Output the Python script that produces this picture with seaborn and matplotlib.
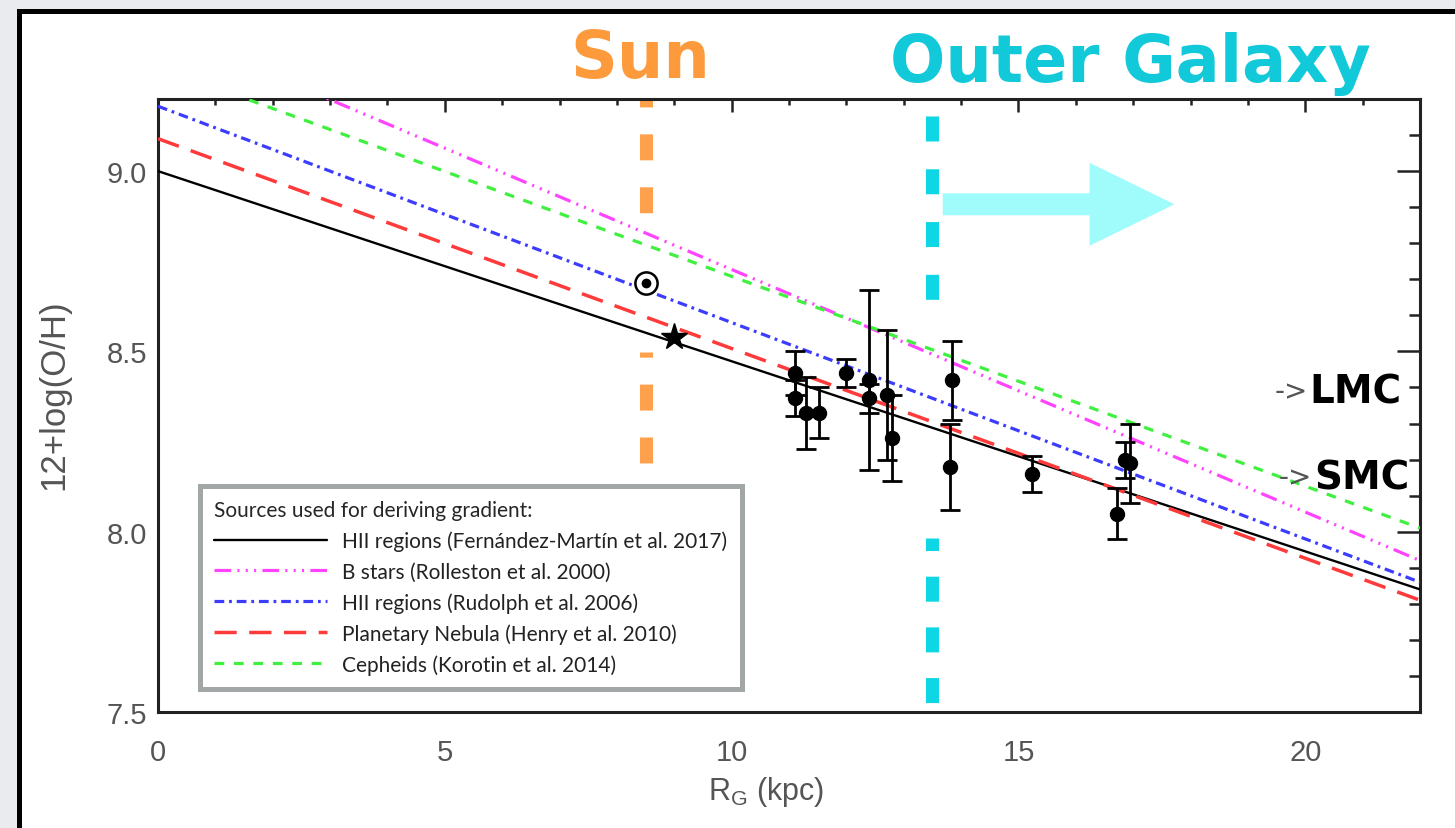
import numpy as np
import pandas as pd
import matplotlib
matplotlib.use("Agg")
import matplotlib.pyplot as plt
from matplotlib.patches import Rectangle
import seaborn as sns

# ---------------- data ----------------
grad_labels = ["HII regions (Fernández-Martín et al. 2017)",
               "B stars (Rolleston et al. 2000)",
               "HII regions (Rudolph et al. 2006)",
               "Planetary Nebula (Henry et al. 2010)",
               "Cepheids (Korotin et al. 2014)"]
grad_x = [0, 22]
grad_y0 = [9.00, 9.40, 9.18, 9.09, 9.29]   # value at R=0
grad_y1 = [7.84, 7.92, 7.86, 7.81, 8.01]   # value at R=22
grad_colors = ["black", "#ff44ff", "#3c3cff", "#ff3a3a", "#3ff03f"]
grad_lw = [1.7, 2.3, 2.3, 2.5, 2.3]
grad_styles = ["-",
               (0, (12, 4.5, 1.5, 4.5, 1.5, 4.5, 1.5, 4.5)),
               (0, (7, 3.5, 2, 3.5)),
               (0, (16, 9)),
               (0, (7, 7))]

pts_x = [11.10, 11.10, 11.30, 11.52, 12.00, 12.40, 12.40, 12.70, 12.80,
         13.85, 13.80, 15.23, 16.72, 16.85, 16.95]
pts_y = [8.44, 8.37, 8.33, 8.33, 8.44, 8.42, 8.37, 8.38, 8.26,
         8.42, 8.18, 8.16, 8.05, 8.20, 8.19]
pts_err = [0.06, 0.05, 0.10, 0.07, 0.04, 0.25, 0.04, 0.18, 0.12,
           0.11, 0.12, 0.05, 0.07, 0.05, 0.11]

sun_x, sun_y = 8.5, 8.69
star_x, star_y = 9.0, 8.54

sun_line_x = 8.5
sun_line_seg1 = [9.2, 8.88]
sun_line_seg2 = [8.497, 8.186]
outer_line_x = 13.5
outer_line_seg1 = [9.153, 8.639]
outer_line_seg2 = [7.983, 7.5]
arrow_x0, arrow_x1, arrow_y = 13.68, 17.72, 8.908

lmc_y, smc_y = 8.39, 8.15

# ---------------- figure ----------------
sns.set_style("white")
plt.rcParams["lines.scale_dashes"] = False

W, H = 1455, 829
fig = plt.figure(figsize=(W / 100, H / 100), dpi=100)
fig.patch.set_facecolor("#e9ebee")
fig.add_artist(Rectangle((19 / W, -0.05), 1.2, 1 - 12 / H + 0.05,
                         transform=fig.transFigure, facecolor="white",
                         edgecolor="black", lw=3.6, zorder=0))

ax = fig.add_axes([158 / W, 1 - 713 / H, (1420 - 158) / W, (713 - 100) / H])
ax.set_facecolor("white")

# vertical dashed marker lines (behind everything)
orange = "#ffa04c"
cyan = "#0fd6e4"
ax.plot([sun_line_x, sun_line_x], sun_line_seg1, color=orange, lw=9.4,
        linestyle=(13, (18.7, 19.4)), zorder=1, clip_on=False)
ax.plot([sun_line_x, sun_line_x], sun_line_seg2, color=orange, lw=9.4,
        linestyle=(15, (18.7, 19.4)), zorder=1)
ax.plot([outer_line_x, outer_line_x], outer_line_seg1, color=cyan, lw=9.4,
        linestyle=(0, (18.0, 20.0)), zorder=1)
ax.plot([outer_line_x, outer_line_x], outer_line_seg2, color=cyan, lw=9.4,
        linestyle=(9, (18.0, 18.5)), zorder=1)

# arrow
ax.arrow(arrow_x0, arrow_y, arrow_x1 - arrow_x0, 0, width=0.061,
         head_width=0.23, head_length=1.48, length_includes_head=True,
         color="#a0fbfb", lw=0, zorder=1.5)

# gradient lines
for lab, y0, y1, c, lw, ls in zip(grad_labels, grad_y0, grad_y1,
                                  grad_colors, grad_lw, grad_styles):
    df = pd.DataFrame({"R": grad_x, "OH": [y0, y1]})
    sns.lineplot(data=df, x="R", y="OH", ax=ax, color=c, lw=lw,
                 linestyle=ls, label=lab, zorder=3)

# data points with error bars
ax.errorbar(pts_x, pts_y, yerr=pts_err, fmt="none", ecolor="black",
            elinewidth=2.0, capsize=7, capthick=2.0, zorder=4)
sns.scatterplot(x=pts_x, y=pts_y, ax=ax, color="black", s=105,
                edgecolor="black", zorder=5, legend=False)

# Sun and star symbols
ax.plot([sun_x], [sun_y], marker="o", ms=16, mfc="white", mec="black",
        mew=1.8, zorder=6)
ax.plot([sun_x], [sun_y], marker="o", ms=6, color="black", zorder=7)
ax.plot([star_x], [star_y], marker="*", ms=20, color="black", zorder=6)

ax.set_xlim(0, 22)
ax.set_ylim(7.5, 9.2)
ax.set_xticks([0, 5, 10, 15, 20])
ax.set_xticks(np.arange(0, 23, 1), minor=True)
ax.set_yticks([7.5, 8.0, 8.5, 9.0])
ax.set_yticks(np.arange(7.5, 9.21, 0.1), minor=True)
ax.set_yticklabels(["7.5", "8.0", "8.5", "9.0"])

for s in ax.spines.values():
    s.set_linewidth(2.2)
    s.set_color("#222222")
    s.set_visible(True)

ax.tick_params(axis="both", which="both", direction="in", top=True,
               right=True, color="#222222", width=1.8, labelcolor="#555555",
               labelsize=21)
ax.tick_params(axis="x", which="major", length=9, pad=19)
ax.tick_params(axis="x", which="minor", length=4.5)
ax.tick_params(axis="y", which="major", length=16.5, pad=8)
ax.tick_params(axis="y", which="minor", length=8)
for t in ax.get_xticklabels() + ax.get_yticklabels():
    t.set_fontfamily("Liberation Sans")

ax.set_xlabel(r"R$_\mathregular{G}$ (kpc)", fontsize=22, color="#555555",
              family="Liberation Sans")
ax.xaxis.set_label_coords(0.482, -0.101)
ax.set_ylabel("12+log(O/H)", fontsize=25, color="#555555",
              family="Liberation Sans")
ax.yaxis.set_label_coords(-0.0697, 0.52)

# legend
leg = ax.legend(title="Sources used for deriving gradient:", loc="lower left",
                bbox_to_anchor=(0.033, 0.037), borderaxespad=0,
                frameon=True, fancybox=False, edgecolor="#a3a6a6",
                framealpha=1, prop={"family": "Lato", "size": 15},
                title_fontproperties={"family": "Lato", "size": 15},
                alignment="left", handlelength=5.4, handletextpad=0.75,
                labelspacing=0.5, borderpad=0.7)
leg.get_frame().set_linewidth(3.6)
leg.set_zorder(8)
for t in leg.get_texts():
    t.set_color("#222222")

# annotations
ax.text(8.4, 9.31, "Sun", ha="center", va="center", color="#fd9a3c",
        fontsize=47, fontweight="bold", clip_on=False)
ax.text(16.95, 9.30, "Outer Galaxy", ha="center", va="center",
        color="#12c9d9", fontsize=47, fontweight="bold", clip_on=False)

ax.text(20.05, lmc_y, "->", ha="right", va="center", color="#555555",
        fontsize=20, zorder=9)
ax.text(20.08, lmc_y, "LMC", ha="left", va="center", color="black",
        fontsize=28, fontweight="bold", zorder=9)
ax.text(20.12, smc_y, "->", ha="right", va="center", color="#555555",
        fontsize=20, zorder=9)
ax.text(20.16, smc_y, "SMC", ha="left", va="center", color="black",
        fontsize=28, fontweight="bold", zorder=9)

fig.savefig("out.png", dpi=100, facecolor=fig.get_facecolor())
